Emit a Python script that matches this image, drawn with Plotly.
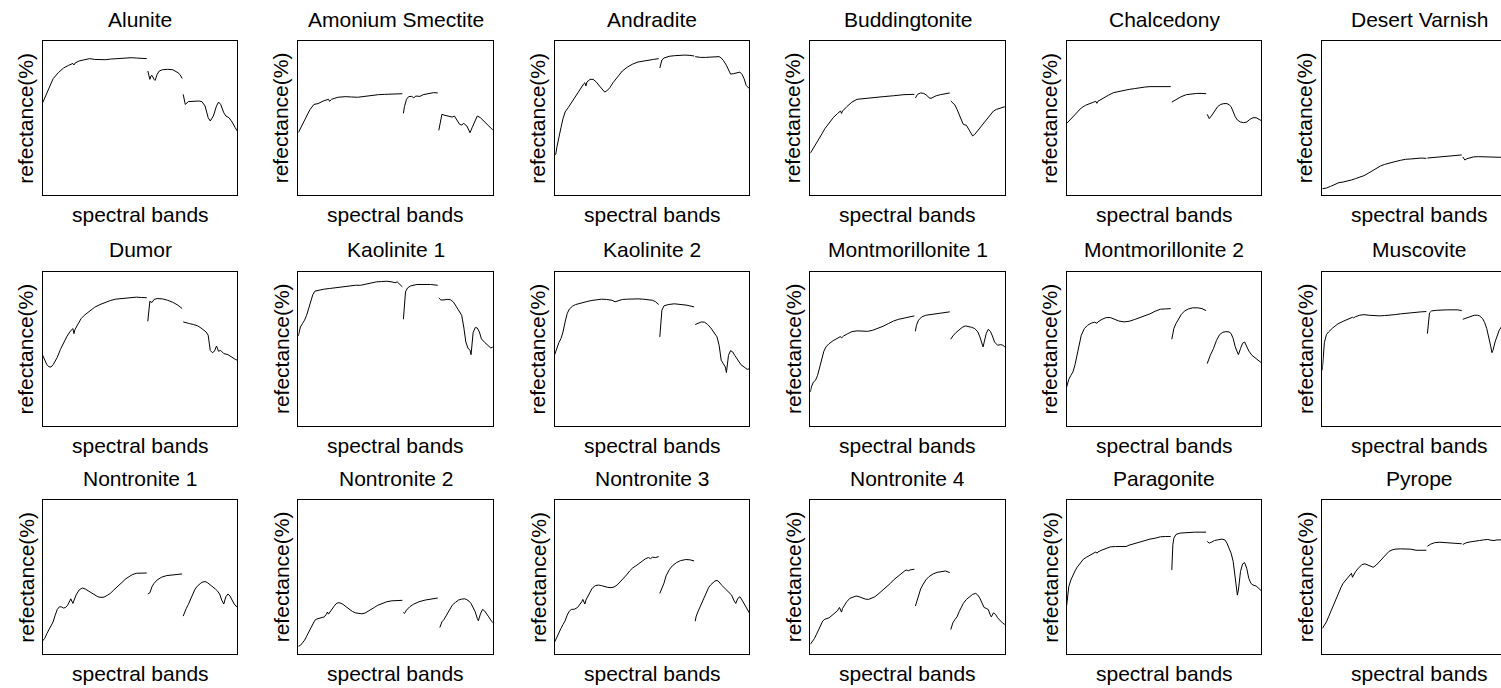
import plotly.graph_objects as go

# ---------------- data: (band, reflectance %) per segment ----------------
MINERALS = ["Alunite", "Amonium Smectite", "Andradite", "Buddingtonite", "Chalcedony", "Desert Varnish",
            "Dumor", "Kaolinite 1", "Kaolinite 2", "Montmorillonite 1", "Montmorillonite 2", "Muscovite",
            "Nontronite 1", "Nontronite 2", "Nontronite 3", "Nontronite 4", "Paragonite", "Pyrope"]

ALUNITE = [
    [(1, 59.9), (6, 68.1), (11, 75.4), (16, 79.3), (21, 82.3), (26, 84.1), (30, 85.3), (31, 84.3), (32, 85.5), (36, 86.9),
     (41, 87.9), (46, 88.4), (51, 87.9), (56, 87.7), (61, 87.7), (66, 88.1), (71, 88.4), (76, 88.8), (81, 88.8), (86, 89.0),
     (91, 88.8), (96, 88.6), (101, 88.4)],
    [(102, 80.4), (104, 75.0), (105, 77.1), (106, 77.6), (108, 75.0), (109, 74.3), (111, 78.2), (113, 80.4), (116, 81.2),
     (121, 81.5), (126, 81.2), (129, 80.2), (131, 79.3), (133, 78.0), (135, 75.6)],
    [(136, 65.3), (138, 58.8), (141, 60.6), (146, 61.0), (151, 61.0), (154, 60.6), (157, 57.8), (160, 50.2), (162, 48.1),
     (165, 51.3), (168, 57.8), (170, 60.3), (172, 58.8), (175, 53.4), (177, 51.3), (180, 50.2), (183, 47.4), (186, 43.7),
     (188, 41.6)],
]
AMONIUM_SMECTITE = [
    [(1, 40.5), (4, 44.8), (7, 49.1), (12, 55.2), (16, 58.8), (20, 59.3), (25, 61.0), (28, 61.6), (30, 62.1), (31, 60.8),
     (33, 62.1), (39, 63.4), (46, 63.8), (52, 63.6), (58, 63.4), (65, 64.0), (71, 64.7), (78, 65.1), (84, 65.3), (90, 65.5),
     (101, 65.7)],
    [(102, 53.0), (103, 57.3), (105, 62.1), (107, 63.8), (110, 64.0), (112, 63.1), (114, 64.2), (118, 64.0), (121, 65.1),
     (126, 65.7), (131, 66.4), (135, 66.2)],
    [(136, 42.0), (138, 50.2), (139, 52.4), (142, 51.7), (146, 51.3), (149, 50.6), (151, 51.3), (154, 48.1), (156, 45.9),
     (158, 45.5), (160, 46.5), (163, 44.8), (165, 42.2), (166, 40.5), (168, 43.7), (171, 48.1), (173, 51.3), (176, 50.2),
     (179, 48.1), (182, 45.9), (185, 44.4), (188, 42.2)],
]
ANDRADITE = [
    [(1, 25.9), (2, 26.5), (3, 30.8), (5, 38.4), (7, 43.7), (9, 49.6), (11, 53.9), (14, 56.7), (17, 59.9), (20, 63.1),
     (23, 66.4), (26, 69.6), (29, 72.2), (30, 72.8), (31, 70.7), (32, 73.3), (35, 75.0), (38, 75.0), (41, 73.3), (44, 70.7),
     (47, 68.1), (49, 66.8), (51, 67.5), (54, 69.6), (57, 72.8), (61, 76.3), (66, 80.4), (71, 83.0), (76, 84.9), (81, 86.2),
     (86, 86.9), (91, 87.5), (96, 87.9), (101, 88.4)],
    [(102, 82.3), (103, 85.3), (104, 87.5), (106, 88.8), (111, 89.9), (116, 90.3), (121, 90.7), (126, 90.7), (131, 90.5),
     (135, 90.1)],
    [(136, 89.7), (141, 89.2), (146, 89.2), (151, 89.4), (156, 89.4), (159, 89.7), (161, 88.8), (163, 87.3), (166, 84.1),
     (168, 80.8), (170, 78.4), (173, 78.7), (176, 79.3), (179, 79.7), (181, 78.2), (183, 75.4), (185, 71.1), (188, 69.0)],
]
BUDDINGTONITE = [
    [(1, 27.2), (4, 30.4), (7, 33.6), (11, 38.4), (15, 43.1), (19, 47.0), (23, 50.2), (27, 52.8), (30, 54.5), (31, 53.0),
     (32, 54.5), (36, 57.3), (41, 60.3), (46, 62.1), (51, 62.5), (61, 63.1), (71, 63.8), (81, 64.4), (91, 65.1), (101, 65.3)],
    [(102, 62.9), (104, 65.3), (107, 66.2), (110, 65.9), (113, 64.7), (115, 63.1), (117, 62.7), (119, 63.6), (122, 64.4),
     (126, 65.1), (131, 65.7), (135, 66.2)],
    [(136, 61.0), (138, 59.9), (140, 58.4), (142, 55.6), (144, 52.4), (146, 48.1), (148, 45.9), (151, 45.3), (153, 43.1),
     (155, 40.5), (157, 38.4), (159, 39.4), (162, 42.0), (166, 44.8), (170, 48.7), (174, 52.4), (177, 54.5), (180, 55.6),
     (184, 56.7), (188, 57.3)],
]
CHALCEDONY = [
    [(1, 46.5), (4, 48.7), (7, 51.3), (11, 53.9), (15, 56.5), (19, 58.2), (23, 59.5), (27, 60.3), (29, 60.8), (30, 59.5),
     (31, 60.8), (36, 62.9), (41, 64.7), (46, 66.4), (51, 67.2), (56, 67.9), (61, 68.5), (66, 69.0), (71, 69.6), (76, 70.0),
     (81, 70.3), (91, 70.3), (101, 70.3)],
    [(102, 60.3), (104, 61.2), (107, 62.5), (111, 63.8), (116, 65.1), (121, 65.7), (126, 65.9), (131, 65.9), (135, 65.7)],
    [(136, 52.4), (138, 49.6), (140, 51.3), (143, 54.5), (146, 57.3), (149, 58.8), (152, 59.3), (155, 59.3), (157, 58.6),
     (159, 57.3), (161, 53.9), (163, 50.8), (165, 48.7), (168, 47.4), (171, 47.0), (174, 47.4), (177, 49.1), (180, 50.2),
     (183, 50.2), (186, 49.1), (188, 48.3)],
]
DESERT_VARNISH = [
    [(1, 4.3), (5, 4.7), (9, 5.8), (13, 6.9), (17, 8.2), (21, 8.6), (25, 9.1), (29, 9.9), (33, 10.8), (37, 11.6), (41, 12.7),
     (45, 14.2), (49, 15.9), (53, 17.5), (57, 19.0), (61, 20.0), (66, 21.1), (71, 21.8), (76, 22.6), (81, 23.3), (86, 23.5),
     (91, 23.9), (96, 24.1), (101, 23.9)],
    [(102, 24.1), (111, 24.6), (121, 25.2), (131, 25.9), (135, 26.1)],
    [(136, 24.8), (138, 22.8), (140, 23.7), (142, 24.1), (146, 24.8), (151, 25.0), (156, 24.8), (161, 25.0), (166, 24.8),
     (171, 24.6), (175, 24.6)],
]
DUMOR = [
    [(1, 45.8), (3, 42.6), (5, 39.7), (7, 38.4), (9, 38.2), (11, 39.7), (13, 41.9), (15, 44.5), (18, 49.5), (21, 54.0),
     (24, 57.7), (27, 60.9), (29, 62.6), (30, 63.1), (31, 59.8), (32, 62.4), (35, 66.1), (38, 69.6), (41, 71.7), (46, 74.5),
     (51, 76.9), (56, 78.6), (61, 80.1), (66, 81.2), (71, 82.1), (76, 82.5), (81, 83.0), (86, 83.2), (91, 83.4), (96, 83.2),
     (101, 83.0)],
    [(102, 67.8), (103, 77.1), (104, 80.8), (106, 79.9), (108, 81.9), (111, 82.5), (116, 82.3), (121, 81.4), (126, 80.1),
     (131, 78.2), (135, 76.0)],
    [(136, 67.4), (139, 66.7), (142, 66.3), (146, 65.7), (150, 64.8), (153, 63.5), (156, 62.0), (158, 60.9), (160, 58.8),
     (161, 53.3), (162, 49.0), (164, 47.5), (166, 48.4), (168, 51.8), (170, 48.4), (172, 49.0), (175, 46.9), (179, 46.2),
     (183, 44.3), (186, 43.2), (188, 42.6)],
]
KAOLINITE_1 = [
    [(1, 58.3), (3, 64.1), (5, 66.3), (7, 68.5), (9, 71.7), (11, 76.0), (13, 81.4), (15, 85.1), (17, 87.3), (21, 88.1),
     (26, 88.6), (31, 89.0), (36, 89.4), (41, 89.8), (46, 90.3), (51, 90.9), (56, 91.1), (61, 91.1), (66, 91.8), (71, 92.7),
     (76, 93.3), (81, 93.5), (86, 93.7), (91, 93.3), (94, 92.7), (96, 93.3), (98, 92.2), (101, 90.1)],
    [(102, 69.1), (103, 80.3), (104, 86.8), (106, 89.4), (109, 90.7), (115, 91.6), (121, 91.8), (128, 91.6), (135, 91.1)],
    [(136, 82.9), (138, 81.6), (141, 81.6), (144, 82.0), (147, 81.8), (150, 80.3), (153, 77.1), (156, 73.9), (158, 71.7),
     (160, 64.1), (162, 54.4), (164, 50.5), (166, 49.0), (167, 46.2), (168, 51.9), (169, 60.5), (171, 63.7), (173, 63.5),
     (175, 60.9), (177, 56.4), (180, 54.2), (183, 52.3), (186, 50.5), (188, 51.2)],
]
KAOLINITE_2 = [
    [(1, 46.2), (3, 50.5), (5, 54.0), (7, 56.6), (9, 60.9), (11, 67.4), (13, 72.8), (15, 75.6), (18, 77.5), (21, 78.6),
     (26, 79.7), (31, 80.4), (36, 81.2), (41, 81.6), (46, 82.1), (51, 81.9), (56, 81.4), (59, 80.4), (62, 81.2), (66, 81.9),
     (71, 82.1), (76, 82.3), (81, 82.3), (86, 82.1), (91, 81.6), (95, 81.4), (98, 80.4), (101, 78.6)],
    [(102, 57.7), (103, 69.6), (104, 74.9), (106, 77.8), (110, 78.6), (116, 79.1), (122, 78.8), (128, 78.2), (135, 77.1)],
    [(136, 65.7), (139, 66.3), (142, 67.4), (145, 67.2), (148, 65.7), (151, 63.5), (154, 60.9), (157, 57.7), (159, 52.3),
     (161, 42.6), (163, 40.4), (165, 38.2), (166, 34.6), (167, 39.3), (168, 45.8), (170, 48.8), (172, 48.0), (174, 45.8),
     (177, 42.6), (180, 39.7), (183, 38.2), (186, 36.7), (188, 37.1)],
]
MONTMORILLONITE_1 = [
    [(1, 22.0), (2, 25.3), (4, 28.5), (6, 29.6), (8, 32.8), (10, 38.2), (12, 43.6), (14, 48.4), (16, 51.2), (19, 53.3),
     (23, 55.3), (27, 56.6), (30, 57.9), (31, 57.0), (33, 58.3), (37, 59.8), (41, 61.1), (46, 61.6), (51, 61.6), (56, 61.3),
     (61, 62.0), (66, 63.1), (71, 64.6), (76, 66.3), (81, 68.0), (86, 69.1), (91, 70.0), (96, 70.4), (101, 71.3)],
    [(102, 61.3), (103, 65.2), (105, 68.5), (108, 70.6), (112, 71.7), (118, 72.4), (124, 73.0), (130, 73.7), (135, 73.9)],
    [(136, 56.2), (138, 58.3), (141, 60.5), (144, 62.4), (147, 63.9), (150, 64.8), (153, 64.4), (156, 63.9), (159, 63.1),
     (162, 60.9), (164, 57.7), (166, 52.7), (167, 51.2), (168, 54.0), (170, 59.8), (172, 62.6), (174, 61.3), (176, 58.3),
     (178, 54.4), (181, 52.3), (184, 52.7), (186, 52.3), (188, 51.2)],
]
MONTMORILLONITE_2 = [
    [(1, 25.3), (3, 30.2), (5, 32.8), (7, 35.0), (9, 39.7), (11, 46.2), (13, 53.3), (15, 58.8), (18, 63.1), (21, 65.2),
     (25, 66.7), (28, 67.2), (30, 66.5), (31, 67.4), (35, 69.1), (39, 70.2), (43, 70.2), (47, 69.1), (51, 68.0), (56, 67.4),
     (61, 67.8), (66, 68.9), (71, 70.0), (76, 71.3), (81, 72.6), (86, 74.3), (91, 75.6), (96, 75.8), (101, 76.0)],
    [(102, 56.2), (104, 63.1), (106, 66.3), (108, 68.9), (111, 72.1), (114, 74.3), (118, 75.8), (122, 76.5), (127, 76.5),
     (131, 76.0), (135, 74.7)],
    [(136, 40.4), (137, 42.5), (139, 45.8), (142, 50.1), (145, 55.5), (148, 59.2), (151, 60.7), (154, 61.1), (157, 60.9),
     (159, 59.8), (161, 56.6), (163, 51.2), (165, 47.5), (166, 46.2), (168, 50.1), (170, 53.6), (172, 54.4), (174, 51.8),
     (176, 48.6), (179, 45.8), (182, 44.1), (185, 42.6), (188, 41.0)],
]
MUSCOVITE = [
    [(1, 36.1), (2, 45.8), (3, 54.0), (5, 59.2), (7, 60.9), (11, 63.5), (16, 66.1), (21, 67.8), (26, 69.3), (30, 70.4),
     (31, 70.0), (33, 70.8), (37, 71.7), (41, 72.1), (46, 71.7), (51, 71.3), (56, 71.3), (61, 71.5), (66, 71.7), (71, 72.1),
     (76, 72.6), (81, 73.0), (86, 73.2), (91, 73.4), (96, 73.9), (101, 74.1)],
    [(102, 59.8), (103, 69.6), (104, 73.2), (106, 74.5), (111, 74.9), (121, 75.2), (131, 75.2), (135, 74.7)],
    [(136, 69.1), (138, 69.6), (141, 70.0), (144, 71.1), (147, 71.7), (150, 71.7), (152, 71.3), (155, 69.6), (157, 67.0),
     (159, 63.1), (161, 57.7), (163, 51.2), (164, 47.5), (165, 49.0), (167, 54.4), (169, 58.3), (171, 62.0), (173, 64.1),
     (175, 64.8), (178, 63.1)],
]
NONTRONITE_1 = [
    [(1, 8.7), (3, 10.4), (5, 13.4), (7, 16.0), (9, 18.4), (11, 21.0), (13, 25.3), (15, 29.0), (17, 30.7), (19, 30.7),
     (21, 29.9), (23, 30.3), (25, 31.8), (27, 34.0), (28, 35.9), (30, 32.9), (31, 35.1), (33, 38.3), (36, 41.6), (39, 42.9),
     (42, 42.2), (45, 40.9), (48, 39.4), (51, 38.1), (54, 37.2), (57, 36.8), (60, 37.0), (63, 38.1), (66, 39.4), (69, 41.4),
     (72, 43.3), (75, 45.2), (78, 47.2), (81, 48.9), (84, 50.2), (87, 51.5), (91, 52.4), (96, 52.4), (101, 52.6)],
    [(102, 39.0), (104, 39.8), (106, 43.7), (108, 45.9), (111, 48.1), (115, 49.8), (120, 50.9), (126, 51.5), (131, 52.0),
     (135, 52.0)],
    [(136, 24.7), (137, 26.8), (139, 29.7), (141, 32.3), (143, 35.5), (145, 39.0), (147, 41.6), (149, 43.7), (151, 45.2),
     (153, 46.1), (155, 46.8), (157, 47.0), (159, 46.5), (161, 45.5), (163, 44.6), (165, 43.3), (167, 42.2), (169, 40.9),
     (171, 39.0), (173, 35.1), (175, 32.5), (177, 37.2), (179, 39.0), (181, 37.7), (183, 35.1), (185, 32.5), (188, 30.3)],
]
NONTRONITE_2 = [
    [(1, 5.2), (3, 5.8), (5, 7.4), (7, 9.1), (9, 11.7), (11, 14.5), (13, 17.3), (15, 19.9), (17, 22.1), (19, 22.9),
     (21, 23.2), (24, 23.4), (26, 24.2), (28, 26.0), (29, 27.3), (30, 26.0), (31, 26.8), (33, 29.0), (35, 30.7), (37, 32.5),
     (39, 33.3), (41, 33.3), (44, 32.3), (47, 30.7), (50, 29.0), (53, 27.7), (56, 26.8), (59, 26.4), (62, 26.2), (65, 26.6),
     (68, 27.7), (71, 29.0), (74, 30.3), (77, 31.6), (81, 32.9), (86, 34.0), (91, 34.6), (96, 34.9), (101, 34.9)],
    [(102, 27.1), (103, 26.4), (105, 28.6), (108, 30.7), (112, 32.5), (117, 34.0), (123, 35.1), (129, 35.7), (135, 36.4)],
    [(137, 17.3), (139, 21.0), (141, 22.5), (143, 24.9), (145, 27.5), (147, 29.7), (149, 31.8), (152, 33.6), (155, 35.1),
     (158, 35.7), (161, 35.9), (163, 35.3), (165, 34.4), (167, 32.9), (169, 30.3), (171, 27.5), (173, 23.2), (174, 21.7),
     (176, 26.0), (178, 29.0), (180, 28.1), (182, 26.4), (184, 24.2), (186, 22.1), (188, 20.4)],
]
NONTRONITE_3 = [
    [(1, 8.0), (3, 11.3), (5, 14.5), (7, 16.7), (9, 19.3), (11, 21.6), (13, 25.3), (15, 27.9), (17, 29.0), (20, 29.2),
     (23, 30.3), (25, 31.8), (27, 34.0), (28, 35.5), (30, 32.5), (31, 35.1), (33, 37.7), (35, 40.5), (37, 42.7), (40, 44.4),
     (43, 44.8), (46, 44.4), (49, 43.7), (52, 43.3), (55, 43.1), (58, 43.5), (61, 44.8), (64, 46.8), (67, 48.9), (70, 51.3),
     (73, 53.9), (76, 55.9), (79, 57.2), (82, 58.5), (85, 60.2), (88, 61.7), (91, 62.6), (93, 61.9), (95, 62.8), (98, 62.6),
     (101, 63.2)],
    [(102, 39.4), (104, 42.7), (106, 46.0), (108, 50.7), (111, 54.6), (114, 57.2), (118, 59.3), (122, 60.6), (127, 61.3),
     (131, 61.1), (135, 60.4)],
    [(136, 21.4), (137, 24.7), (139, 28.1), (141, 31.2), (143, 34.4), (145, 37.7), (147, 41.1), (149, 43.3), (151, 45.0),
     (153, 46.3), (155, 47.4), (157, 47.8), (159, 46.8), (161, 45.0), (163, 43.7), (165, 42.0), (167, 40.5), (169, 39.4),
     (171, 38.3), (173, 35.1), (175, 32.9), (177, 36.2), (179, 37.2), (181, 35.1), (183, 32.5), (185, 29.7), (188, 26.8)],
]
NONTRONITE_4 = [
    [(1, 6.5), (3, 8.0), (5, 10.2), (7, 13.0), (9, 15.6), (11, 18.8), (13, 21.6), (15, 22.7), (17, 23.2), (19, 23.6),
     (21, 24.7), (23, 26.0), (25, 26.8), (27, 28.1), (29, 30.3), (30, 28.6), (31, 27.3), (32, 29.7), (34, 31.8), (36, 34.0),
     (39, 36.2), (42, 37.2), (45, 37.7), (48, 37.2), (51, 36.4), (54, 35.7), (57, 35.5), (60, 36.2), (63, 37.2), (66, 38.8),
     (69, 40.5), (72, 42.4), (75, 44.2), (78, 45.9), (81, 48.1), (84, 49.8), (87, 51.5), (90, 53.0), (92, 54.1), (94, 54.6),
     (95, 53.9), (97, 54.6), (99, 55.0), (101, 55.0)],
    [(102, 31.2), (103, 33.3), (105, 38.3), (107, 42.2), (109, 44.8), (112, 48.1), (115, 50.2), (119, 52.0), (123, 53.0),
     (127, 53.7), (131, 53.9), (135, 52.8)],
    [(136, 16.0), (138, 20.4), (140, 22.5), (142, 24.2), (144, 27.5), (146, 30.7), (148, 32.9), (151, 35.5), (154, 37.2),
     (157, 38.8), (160, 39.4), (162, 38.3), (164, 36.2), (166, 33.3), (168, 30.3), (170, 29.7), (172, 29.0), (174, 25.3),
     (175, 24.2), (177, 26.8), (179, 25.8), (181, 23.6), (184, 21.4), (186, 20.1), (188, 19.3)],
]
PARAGONITE = [
    [(1, 31.8), (2, 39.4), (3, 43.7), (5, 48.1), (7, 51.3), (9, 53.9), (11, 56.3), (14, 59.3), (17, 61.5), (20, 62.8),
     (23, 64.1), (26, 65.4), (29, 66.2), (30, 65.4), (31, 66.2), (35, 67.5), (39, 68.6), (43, 69.5), (48, 69.7), (53, 69.7),
     (58, 69.7), (61, 70.6), (66, 71.7), (71, 72.5), (76, 73.6), (81, 74.5), (86, 75.1), (91, 76.0), (96, 76.2), (101, 76.2)],
    [(102, 54.6), (103, 70.8), (104, 75.1), (106, 77.5), (110, 78.4), (116, 78.8), (124, 79.0), (135, 79.0)],
    [(136, 73.0), (138, 71.9), (140, 72.5), (143, 73.6), (146, 74.0), (150, 74.5), (153, 74.0), (155, 71.9), (157, 68.6),
     (159, 65.4), (161, 60.0), (163, 50.2), (165, 38.3), (166, 41.6), (168, 53.5), (170, 58.5), (172, 59.3), (174, 55.6),
     (176, 49.1), (178, 45.9), (180, 44.8), (183, 44.2), (186, 42.7), (188, 41.1)],
]
PYROPE = [
    [(1, 16.7), (3, 18.8), (5, 21.0), (7, 24.2), (9, 27.5), (11, 30.7), (13, 34.0), (15, 37.2), (17, 40.5), (19, 43.3),
     (21, 45.9), (23, 47.6), (25, 49.1), (27, 51.3), (29, 52.4), (30, 49.8), (31, 51.3), (33, 53.5), (35, 55.2), (37, 56.7),
     (39, 58.0), (42, 58.5), (45, 57.8), (48, 56.7), (50, 56.3), (53, 57.8), (56, 60.0), (59, 62.4), (62, 64.5), (65, 66.5),
     (68, 67.5), (71, 68.0), (76, 68.2), (81, 68.2), (86, 68.0), (91, 67.3), (96, 67.1), (101, 67.3)],
    [(102, 69.9), (105, 71.2), (109, 72.2), (114, 72.5), (120, 72.2), (126, 71.9), (131, 71.7), (135, 71.5)],
    [(136, 71.0), (139, 72.1), (143, 72.7), (148, 73.4), (152, 73.6), (156, 74.0), (160, 74.3), (163, 73.8), (166, 73.6),
     (169, 74.0), (172, 73.8), (175, 74.0)],
]

SPECTRA = [ALUNITE, AMONIUM_SMECTITE, ANDRADITE, BUDDINGTONITE, CHALCEDONY, DESERT_VARNISH,
           DUMOR, KAOLINITE_1, KAOLINITE_2, MONTMORILLONITE_1, MONTMORILLONITE_2, MUSCOVITE,
           NONTRONITE_1, NONTRONITE_2, NONTRONITE_3, NONTRONITE_4, PARAGONITE, PYROPE]

X_LABEL = "spectral bands"
Y_LABEL = "refectance(%)"
BAND_MIN, BAND_MAX = 1, 188
REFL_MIN, REFL_MAX = 0, 100

# ---------------- layout (pixels) ----------------
W, H = 1501, 688
COL_LEFT = [42.7, 298.3, 554.7, 810.3, 1066.7, 1322.3]
ROW_TOP = [40.7, 271.5, 499.7]
BOX_W, BOX_H = 194.6, 154.6
FONT = dict(family="Liberation Sans, Arial, sans-serif", size=21, color="black")

fig = go.Figure()
layout = dict(width=W, height=H, margin=dict(l=0, r=0, t=0, b=0),
              paper_bgcolor="white", plot_bgcolor="white", showlegend=False)
annotations = []

for i, (name, segs) in enumerate(zip(MINERALS, SPECTRA)):
    r, c = divmod(i, 6)
    k = i + 1
    xs, ys = [], []
    for j, seg in enumerate(segs):
        if j:
            xs.append(None)
            ys.append(None)
        xs += [b for b, v in seg]
        ys += [v for b, v in seg]
    xname = "x" if k == 1 else f"x{k}"
    yname = "y" if k == 1 else f"y{k}"
    fig.add_trace(go.Scatter(x=xs, y=ys, mode="lines", line=dict(color="black", width=1),
                             xaxis=xname, yaxis=yname, hoverinfo="skip", connectgaps=False))

    left = COL_LEFT[c]
    top = ROW_TOP[r]
    right = min(left + BOX_W, W)
    xmax = BAND_MIN + (right - left) / BOX_W * (BAND_MAX - BAND_MIN)
    clipped = (left + BOX_W) > W
    xdom = [left / W, right / W]
    ydom = [1 - (top + BOX_H) / H, 1 - top / H]
    ax_common = dict(showgrid=False, zeroline=False, showticklabels=False, ticks="",
                     showline=True, linecolor="black", linewidth=1)
    layout["xaxis" if k == 1 else f"xaxis{k}"] = dict(domain=xdom, range=[BAND_MIN, xmax], anchor=yname,
                                                      mirror=True, **ax_common)
    layout["yaxis" if k == 1 else f"yaxis{k}"] = dict(domain=ydom, range=[REFL_MIN, REFL_MAX], anchor=xname,
                                                      mirror=not clipped, **ax_common)
    cx = (left + BOX_W / 2) / W
    annotations.append(dict(text=name, x=cx, y=1 - (top - 21.7) / H, xref="paper", yref="paper",
                            xanchor="center", yanchor="middle", showarrow=False, font=FONT))
    annotations.append(dict(text=X_LABEL, x=cx, y=1 - (top + BOX_H + 19.5) / H, xref="paper", yref="paper",
                            xanchor="center", yanchor="middle", showarrow=False, font=FONT))
    annotations.append(dict(text=Y_LABEL, x=(left - 17) / W, y=1 - (top + BOX_H / 2) / H, xref="paper",
                            yref="paper", xanchor="center", yanchor="middle", textangle=-90,
                            showarrow=False, font=FONT))

layout["annotations"] = annotations
fig.update_layout(**layout)
fig.write_html("out.html")
